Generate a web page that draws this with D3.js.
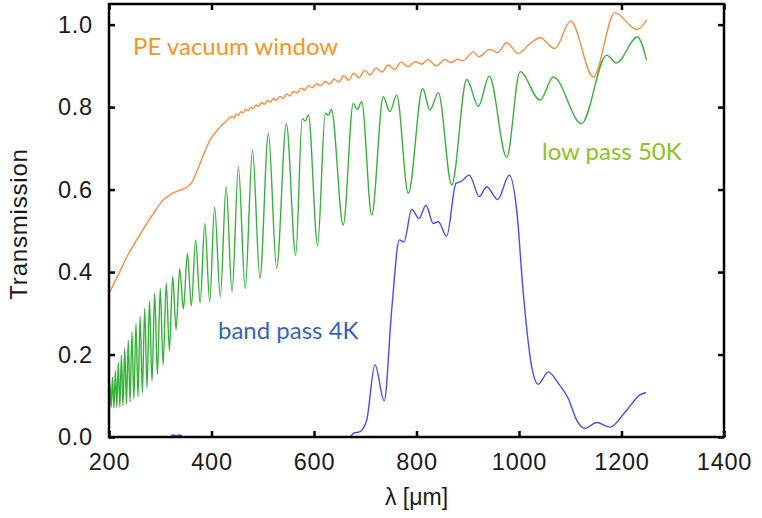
<!DOCTYPE html>
<html><head><meta charset="utf-8">
<script src="https://cdnjs.cloudflare.com/ajax/libs/d3/7.8.5/d3.min.js"></script>
<style>
html,body{margin:0;padding:0;background:#fff;}
svg{display:block;}
</style></head>
<body>
<script>
// ---- data ----
const xTicks = [200, 400, 600, 800, 1000, 1200, 1400];
const yTicks = [0.0, 0.2, 0.4, 0.6, 0.8, 1.0];
const xLabel = "λ [μm]";
const yLabel = "Transmission";

// PE vacuum window (orange)
const peWindow = [
 [200,0.348],[220,0.398],[235,0.437],[255,0.480],[274,0.518],[290,0.548],[306,0.575],[320,0.588],
 [335,0.597],[350,0.604],[362,0.618],[370,0.640],[378,0.664],[388,0.695],[397,0.720],[407,0.737],
 [417,0.752],[428,0.765],
 [439.5,0.777],[443.8,0.774],[448.2,0.783],[452.7,0.780],[457.3,0.789],[462.0,0.786],[466.8,0.795],
 [471.7,0.791],[476.7,0.800],[481.8,0.797],[487.0,0.805],[492.3,0.802],[497.8,0.811],[503.4,0.807],
 [509.1,0.816],[514.9,0.812],[520.9,0.821],[527.0,0.816],[533.2,0.826],[539.6,0.821],[546.2,0.832],
 [552.9,0.827],[559.8,0.838],[566.9,0.834],[574.1,0.846],[581.5,0.841],[589.1,0.852],[596.9,0.847],
 [604.9,0.857],[613.1,0.852],[621.6,0.862],[630.3,0.856],[639.2,0.868],[648.4,0.861],[657.9,0.876],
 [667.6,0.865],[677.6,0.882],[688.0,0.871],[698.6,0.889],[709.6,0.878],[720.9,0.895],[732.6,0.885],
 [744.7,0.902],[757.2,0.891],[770.1,0.909],[783.4,0.898],[797.2,0.910],[810,0.904],[822,0.915],
 [839,0.900],[855,0.915],[868,0.908],[880,0.916],[890,0.912],[911,0.934],[922,0.922],[943,0.940],
 [958,0.932],[976,0.956],[998.6,0.930],[1021.5,0.954],[1041,0.968],[1070,0.942],[1100.8,1.009],
 [1145,0.873],[1187,1.029],[1229.6,0.988],[1249,1.011]
];

// low pass 50K (green)
const lowPass = [
 [200,0.075],[201.6,0.130],[204.2,0.072],[206.9,0.145],[209.6,0.070],[212.4,0.160],[215.2,0.072],
 [218.1,0.180],[221.1,0.073],[224.2,0.198],[227.4,0.076],[230.7,0.215],[234.1,0.080],[237.6,0.235],
 [241.1,0.085],[244.8,0.255],[248.6,0.092],[252.6,0.275],[256.6,0.098],[260.8,0.293],[265.1,0.108],
 [269.6,0.312],[274.2,0.120],[279.0,0.330],[283.9,0.135],[289.1,0.348],[294.4,0.152],[300.0,0.360],
 [305.6,0.175],[311.7,0.373],[317.8,0.210],[324.3,0.389],[330.9,0.260],[338.0,0.408],[345.2,0.310],
 [353.0,0.445],[360.7,0.318],[369.0,0.478],[377.8,0.325],[387.0,0.518],[396.5,0.328],[406.0,0.558],
 [417.2,0.340],[428.5,0.607],[440.1,0.352],[452.5,0.655],[465.7,0.360],[480.0,0.696],[494.5,0.385],
 [511.0,0.736],[527.1,0.409],[546.0,0.760],[564.3,0.441],[577.0,0.772],[583.0,0.766],[589.0,0.781],
 [607.1,0.465],[622.0,0.785],[628.0,0.780],[634.0,0.794],[657.0,0.514],[676.7,0.809],[684.5,0.794],
 [693.0,0.813],[712.6,0.538],[735.2,0.825],[748.0,0.789],[761.4,0.829],[784.0,0.591],[812.0,0.845],
 [826.3,0.793],[842.6,0.835],[868.7,0.611],[898.0,0.867],[920.6,0.802],[942.0,0.875],[976.0,0.678],
 [1002,0.886],[1041,0.817],[1067,0.873],[1122,0.760],[1171,0.926],[1190,0.907],[1231,0.970],[1249,0.914]
];

// band pass 4K (blue)
const bandPass = [
 [200,0],[318,0],[325,0.005],[332,0.003],[338,0.005],[345,0],[670,0],[676.7,0.009],[689.8,0.013],
 [702.8,0.041],[719,0.175],[737,0.088],[751.6,0.308],[766.5,0.478],[775.6,0.473],[790.6,0.552],
 [804.9,0.530],[818.5,0.562],[832.8,0.518],[842.6,0.522],[858.9,0.487],[877,0.615],[886.2,0.619],
 [903,0.635],[922.6,0.583],[937,0.607],[958.4,0.576],[981,0.635],[995.5,0.550],[1008.4,0.348],
 [1024.8,0.170],[1037.7,0.128],[1057,0.158],[1076.7,0.130],[1096,0.094],[1112.5,0.041],
 [1128.8,0.021],[1151.6,0.035],[1177.6,0.024],[1210,0.065],[1236,0.102],[1247.8,0.108]
];

const seriesNames = ["PE vacuum window", "low pass 50K", "band pass 4K"];

// ---- drawing ----
const W = 762, H = 518;
const L = 109, R = 724, T = 4, B = 437;
const svg = d3.select("body").append("svg").attr("width", W).attr("height", H);

const x = d3.scaleLinear().domain([200, 1400]).range([L, R]);
const y = d3.scaleLinear().domain([0, 1.05]).range([B, T]);

svg.append("clipPath").attr("id","c").append("rect")
  .attr("x", L).attr("y", T).attr("width", R-L).attr("height", B-T);

const line = d3.line().x(d => x(d[0])).y(d => y(d[1])).curve(d3.curveMonotoneX);

const g = svg.append("g").attr("clip-path","url(#c)");
g.append("path").datum(peWindow).attr("d", line).attr("fill","none")
  .attr("stroke","#f98c3c").attr("stroke-width",1.4);
g.append("path").datum(lowPass).attr("d", line).attr("fill","none")
  .attr("stroke","#36b23a").attr("stroke-width",1.4);
g.append("path").datum(bandPass).attr("d", line).attr("fill","none")
  .attr("stroke","#4848ff").attr("stroke-width",1.4);

// axes
const font = "Liberation Sans, Arial, sans-serif";
const xAxis = d3.axisBottom(x).tickValues(xTicks).tickSize(-6).tickPadding(16).tickFormat(d3.format("d"));
const xAxisTop = d3.axisTop(x).tickValues(xTicks).tickSize(-6).tickFormat("");
const yAxis = d3.axisLeft(y).tickValues(yTicks).tickSize(-6).tickPadding(16).tickFormat(d3.format(".1f"));
const yAxisRight = d3.axisRight(y).tickValues(yTicks).tickSize(-6).tickFormat("");

function styleAxis(sel){
  sel.select(".domain").remove();
  sel.selectAll(".tick line").attr("stroke","#000").attr("stroke-width",2.5);
  sel.selectAll(".tick text").attr("fill","#1a1a1a").style("font-family",font)
    .style("font-size","23.5px").style("letter-spacing","0.8px");
}
svg.append("g").attr("transform",`translate(0,${B})`).call(xAxis).call(styleAxis);
svg.append("g").attr("transform",`translate(0,${T})`).call(xAxisTop).call(styleAxis);
svg.append("g").attr("transform",`translate(${L},0)`).call(yAxis).call(styleAxis);
svg.append("g").attr("transform",`translate(${R},0)`).call(yAxisRight).call(styleAxis);

svg.append("rect").attr("x",L).attr("y",T).attr("width",R-L).attr("height",B-T)
  .attr("fill","none").attr("stroke","#000").attr("stroke-width",2.5);

// axis titles
svg.append("text").attr("x", (L+R)/2).attr("y", 505).attr("text-anchor","middle")
  .style("font-family",font).style("font-size","23px").attr("fill","#1a1a1a").text(xLabel);
svg.append("text").attr("transform",`translate(27,${224}) rotate(-90)`).attr("text-anchor","middle")
  .style("font-family",font).style("font-size","24px").style("letter-spacing","0.8px")
  .attr("fill","#1a1a1a").text(yLabel);

// series labels
const lf = "Lato, 'Open Sans', sans-serif";
svg.append("text").attr("x",133).attr("y",55).style("font-family",lf).style("font-size","24px")
  .attr("fill","#f7931e").text(seriesNames[0]);
svg.append("text").attr("x",542).attr("y",160).style("font-family",lf).style("font-size","24px")
  .attr("fill","#8cc41c").text(seriesNames[1]);
svg.append("text").attr("x",218).attr("y",339).style("font-family",lf).style("font-size","24px")
  .attr("fill","#3366bb").text(seriesNames[2]);
</script>
</body></html>
